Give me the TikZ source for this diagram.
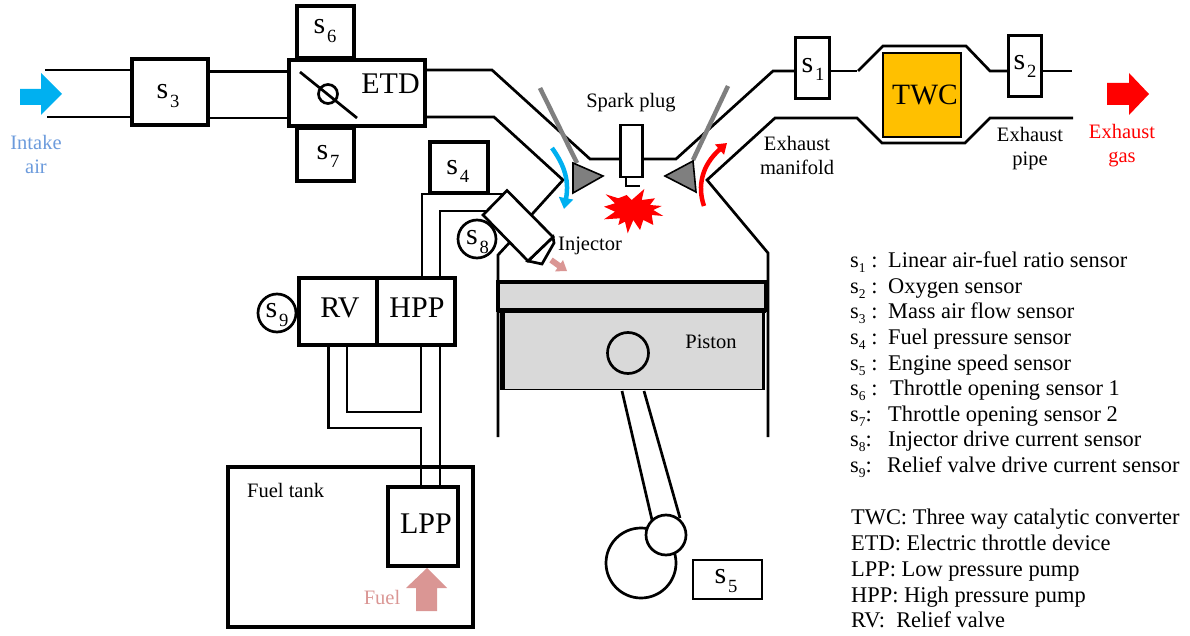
\documentclass[tikz,border=0pt]{standalone}
\usepackage{fontspec}
\usepackage{graphicx}
\setmainfont{Liberation Serif}
\usetikzlibrary{arrows.meta}
\definecolor{twc}{HTML}{FFC000}
\definecolor{airblue}{HTML}{00B0F0}
\definecolor{airtext}{HTML}{6C9BDC}
\definecolor{fuelpink}{HTML}{DA9694}
\definecolor{pistongray}{HTML}{D9D9D9}
\definecolor{valvegray}{HTML}{7F7F7F}
\newcommand{\snr}[1]{s\kern.06em\raisebox{-.27em}{\scalebox{.62}{#1}}}
\newcommand{\lsn}[1]{s\raisebox{-.25em}{\scalebox{.6}{#1}}}
\tikzset{
  pipe/.style={line width=2.7pt,line join=miter},
  box/.style={draw,line width=3.6pt,fill=white,inner sep=0pt,anchor=center},
  thinbox/.style={box,line width=3pt},
  lab/.style={inner sep=0pt,font=\fontsize{30}{30}\selectfont,anchor=center},
  small/.style={inner sep=0pt,font=\fontsize{20.5}{24}\selectfont,align=center,anchor=center},
  legend/.style={inner sep=0pt,font=\fontsize{22.4}{22.4}\selectfont,anchor=base west},
  sensorc/.style={circle,draw,line width=2.7pt,fill=white,inner sep=0pt,minimum size=38pt},
}
\begin{document}
\begin{tikzpicture}[x=1pt,y=-1pt]
\useasboundingbox (0,0) rectangle (1190,636);
% intake pipes
\draw[pipe] (45,70) -- (132,70);
\draw[pipe] (47,117) -- (132,117);
\draw[pipe] (208,71.5) -- (289,71.5);
\draw[pipe] (208,118) -- (292,118);
% intake runner
\draw[pipe] (425,70) -- (492,70) -- (590,159) -- (676,159) -- (773,71) -- (795,71);
\draw[pipe] (425,117) -- (494,117) -- (563,180) -- (525,222);
\draw[pipe] (857,71) -- (829,71);
\draw[pipe] (858,71) -- (883,46) -- (966,46) -- (990,71) -- (1008,71);
\draw[pipe] (1041,71) -- (1072,71);
\draw[pipe] (768,437) -- (768,253) -- (707,180) -- (775,118) -- (857,118) -- (882,143) -- (965,143) -- (990,118) -- (1073,118);
\draw[pipe] (498,437) -- (498,255) -- (510,242);
% TWC
\node[draw,line width=2.4pt,fill=twc,minimum width=78pt,minimum height=84pt,inner sep=0pt] (twc) at (922,95) {};
\node[lab,font=\fontsize{29.5}{30}\selectfont] at (925,95) {TWC};
% sensors in exhaust
\node[thinbox,minimum width=34pt,minimum height=61pt] (s1) at (812,68.5) {};
\node[lab] at (813,69) {\snr{1}};
\node[thinbox,minimum width=33pt,minimum height=61pt] (s2) at (1024.5,66.5) {};
\node[lab] at (1025,66) {\snr{2}};
% throttle
\node[box,minimum width=57pt,minimum height=52pt] (s6) at (325.5,32) {};
\node[lab] at (325,31) {\snr{6}};
\node[box,minimum width=57pt,minimum height=53pt] (s7) at (325.5,154.5) {};
\node[lab] at (328,156) {\snr{7}};
\node[box,minimum width=76pt,minimum height=66pt] (s3) at (170,92) {};
\node[lab] at (168,96) {\snr{3}};
\node[box,minimum width=136pt,minimum height=66pt] (etd) at (357,93) {};
\draw[line width=2.7pt] (300,72) -- (357,118);
\node[circle,draw,line width=2.7pt,inner sep=0pt,minimum size=19pt] (thr) at (328,94) {};
\node[lab] at (390.5,84) {ETD};
% intake arrow
\fill[airblue] (20,89) -- (41,89) -- (41,73) -- (62,94) -- (41,115) -- (41,105) -- (20,105) -- cycle;
\node[small,text=airtext] at (36,154) {Intake\\air};
% exhaust arrow
\fill[red] (1107,83) -- (1129,83) -- (1129,73) -- (1149,94) -- (1129,115) -- (1129,105) -- (1107,105) -- cycle;
\node[small,text=red] at (1122,145.5) {Exhaust\\gas};
\node[small] at (1030,149) {Exhaust\\pipe};
\node[small] at (797,155.5) {Exhaust\\manifold};
% spark plug
\node[small] at (631,103) {Spark plug};
\node[draw,line width=2.7pt,fill=white,minimum width=22pt,minimum height=52pt,inner sep=0pt] (plug) at (631.5,151) {};
\draw[line width=2.7pt] (626,177) -- (626,186) -- (640,186);
% valves
\draw[line width=4.5pt,valvegray] (540,88) -- (577,163);
\draw[line width=4.5pt,valvegray] (728,86) -- (693,160);
\draw[line width=1.6pt,fill=valvegray] (573,163) -- (573,193) -- (603,176) -- cycle;
\draw[line width=1.6pt,fill=valvegray] (693,161) -- (696,192) -- (665,176) -- cycle;
% flow arrows
\draw[line width=4.5pt,airblue,-{Triangle[length=11pt,width=14pt]}] (552,148) .. controls (562,162) and (570,178) .. (564,209);
\draw[line width=4.5pt,red,-{Triangle[length=10pt,width=13pt]}] (704,206) .. controls (697,186) and (702,165) .. (727,143);
% explosion
\fill[red] (605.7,194.3) -- (618.3,198.3) -- (626.7,195) -- (631.7,200) -- (644.3,189) -- (641.7,200) -- (655,198.3) -- (650,205) -- (661.7,206) -- (653.3,210) -- (663.3,216) -- (651.7,215) -- (653.3,225) -- (643.3,220) -- (640,230) -- (633.3,220) -- (627.7,233.3) -- (625,221.7) -- (618.3,225) -- (620,218.3) -- (604,219.3) -- (615,211.7) -- (604,206.7) -- (615,203.3) -- cycle;
% fuel rail
\draw[pipe] (422,278) -- (422,194) -- (503,194);
\draw[pipe] (440,278) -- (440,211) -- (487,211);
\draw[pipe] (328.5,345) -- (328.5,428) -- (421,428) -- (421,487);
\draw[pipe] (347,345) -- (347,412) -- (421,412) -- (421,345);
\draw[pipe] (440,345) -- (440,487);
\node[box,minimum width=58pt,minimum height=51pt] (s4) at (459,167.5) {};
\node[lab] at (457.7,171.5) {\snr{4}};
\draw[pipe,fill=white] (553,237) -- (554,243) -- (542,264) -- (528,261) -- cycle;
\draw[pipe,fill=white] (507,190.5) -- (553,237) -- (528,261) -- (483,215) -- cycle;
\fill[fuelpink] (549.3,262.4) -- (552.7,257.6) -- (560.7,263.3) -- (563,260) -- (567,271) -- (555,271.4) -- (557.3,268.1) -- cycle;
\node[small,anchor=west] at (558,246) {Injector};
\node[sensorc] (s8) at (477,239) {};
\node[lab] at (477.5,242) {\snr{8}};
\node[sensorc] (s9) at (277,313) {};
\node[lab] at (277,315) {\snr{9}};
\node[box,minimum width=156pt,minimum height=67pt] (rvhpp) at (377,311.5) {};
\draw[line width=3.6pt] (377,278) -- (377,345);
\node[lab] at (340,308) {RV};
\node[lab] at (417,308) {HPP};
% tank
\node[draw,line width=3.6pt,minimum width=245pt,minimum height=160pt,inner sep=0pt] (tank) at (350.5,547) {};
\draw[pipe] (421,467) -- (421,487);
\draw[pipe] (440,467) -- (440,487);
\node[small,anchor=base west] at (247,497) {Fuel tank};
\node[box,minimum width=70pt,minimum height=79pt] (lpp) at (423,526.5) {};
\node[lab] at (426,524) {LPP};
\fill[fuelpink] (427,568) -- (447,588) -- (437,588) -- (437,611) -- (416,611) -- (416,588) -- (406,588) -- cycle;
\node[small,text=fuelpink] at (382,597) {Fuel};
% piston
\draw[line width=2.7pt] (622,391) -- (652,520);
\draw[line width=2.7pt] (644,391) -- (680,518);
\node[draw,line width=3.6pt,fill=pistongray,minimum width=268pt,minimum height=28pt,inner sep=0pt] (ring) at (632,296) {};
\fill[pistongray] (502,310) rectangle (763,389);
\draw[line width=5pt] (502.5,310) -- (502.5,389);
\draw[line width=3pt] (763,310) -- (763,389);
\draw[line width=1.4pt] (500,389.5) -- (765,389.5);
\draw[line width=5pt] (498,310) -- (766,310);
\node[circle,draw,line width=2.7pt,inner sep=0pt,minimum size=41pt] (pin) at (628,353) {};
\node[small,anchor=center] at (711,342) {Piston};
\node[circle,draw,line width=2.7pt,fill=white,inner sep=0pt,minimum size=70pt] (crank) at (641,563) {};
\node[circle,draw,line width=2.7pt,fill=white,inner sep=0pt,minimum size=40pt] (big) at (666,535) {};
\node[draw,line width=2.7pt,minimum width=69pt,minimum height=39pt,inner sep=0pt] (s5) at (727.5,579.5) {};
\node[lab] at (726,581) {\snr{5}};
% legend
\node[legend] at (850,267) {\lsn{1}\ :};
\node[legend] at (888,267) {Linear air-fuel ratio sensor};
\node[legend] at (850,293) {\lsn{2}\ :};
\node[legend] at (888,293) {Oxygen sensor};
\node[legend] at (850,318) {\lsn{3}\ :};
\node[legend] at (888,318) {Mass air flow sensor};
\node[legend] at (850,344) {\lsn{4}\ :};
\node[legend] at (888,344) {Fuel pressure sensor};
\node[legend] at (850,370) {\lsn{5}\ :};
\node[legend] at (888,370) {Engine speed sensor};
\node[legend] at (850,395) {\lsn{6}\ :};
\node[legend] at (890,395) {Throttle opening sensor 1};
\node[legend] at (850,421) {\lsn{7}:};
\node[legend] at (888,421) {Throttle opening sensor 2};
\node[legend] at (850,446) {\lsn{8}:};
\node[legend] at (888,446) {Injector drive current sensor};
\node[legend] at (850,472) {\lsn{9}:};
\node[legend] at (887,472) {Relief valve drive current sensor};
\node[legend] at (851,524) {TWC: Three way catalytic converter};
\node[legend] at (851,550) {ETD: Electric throttle device};
\node[legend] at (851,576) {LPP: Low pressure pump};
\node[legend] at (851,602) {HPP: High pressure pump};
\node[legend] at (851,627) {RV:\ \ Relief valve};
\end{tikzpicture}
\end{document}
